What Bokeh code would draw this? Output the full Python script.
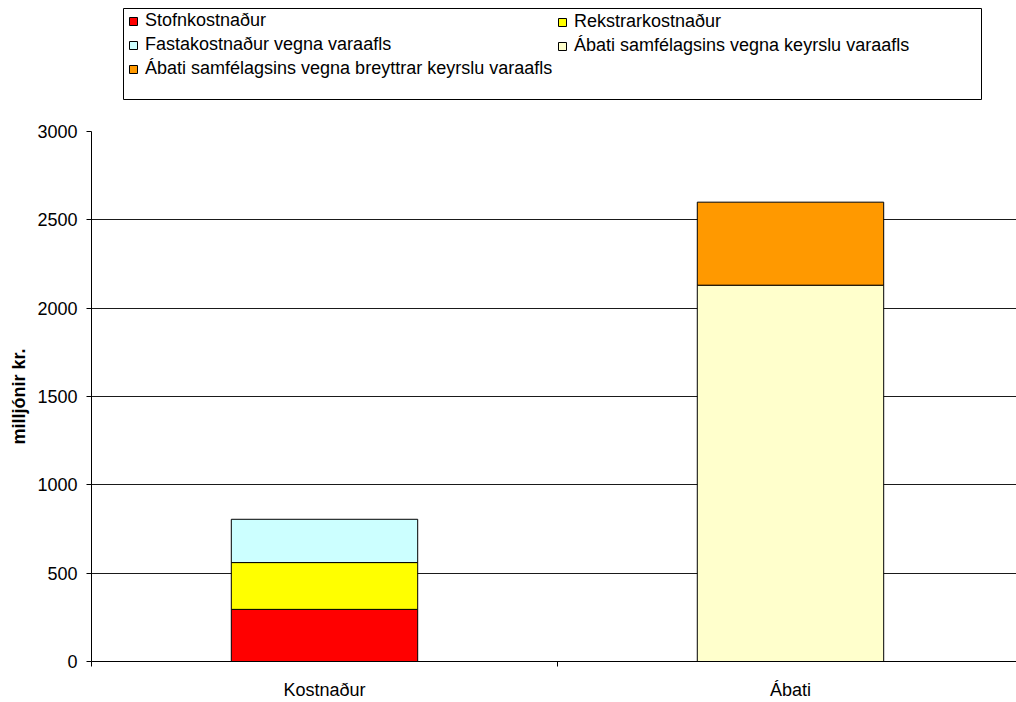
import numpy as np
from bokeh.plotting import figure
from bokeh.layouts import column
from bokeh.models import (Range1d, FixedTicker, Legend, LegendItem, BoxAnnotation)
from bokeh.embed import file_html
from bokeh.resources import INLINE

# Categories and stacked series (million ISK)
categories = ["Kostnaður", "Ábati"]
stofnkostnadur = [295, 0]
rekstrarkostnadur = [265, 0]
fastakostnadur = [245, 0]
abati_keyrsla = [0, 2130]
abati_breytt_keyrsla = [0, 470]

series_names = [
    "Stofnkostnaður",
    "Rekstrarkostnaður",
    "Fastakostnaður vegna varaafls",
    "Ábati samfélagsins vegna keyrslu varaafls",
    "Ábati samfélagsins vegna breyttrar keyrslu varaafls",
]
series_values = [stofnkostnadur, rekstrarkostnadur, fastakostnadur,
                 abati_keyrsla, abati_breytt_keyrsla]
series_colors = ["#FF0000", "#FFFF00", "#CCFFFF", "#FFFFCC", "#FF9900"]

y_ticks = [0, 500, 1000, 1500, 2000, 2500, 3000]

FONT = "Liberation Sans"
FS = "18px"
W = 1016
LEGEND_H = 110
LEFT = 91
# the plot area runs a little past the right edge of the page
X_END = len(categories) * 0.9925


def stacked_bars(fig, **extra):
    """Draw the stacked columns on fig and return one renderer per series."""
    x_pos = np.arange(len(categories)) + 0.5
    running = np.zeros(len(categories))
    out = []
    for vals, color in zip(series_values, series_colors):
        vals = np.asarray(vals, dtype=float)
        mask = vals > 0
        r = fig.vbar(x=x_pos[mask], bottom=running[mask], top=(running + vals)[mask],
                     width=0.40, fill_color=color, line_color="black", line_width=1,
                     **extra)
        out.append(r)
        running = running + vals
    return x_pos, out


# ---------------- main chart ----------------
p = figure(width=W, height=702 - LEGEND_H, output_backend="svg", toolbar_location=None,
           x_range=Range1d(0, X_END), y_range=Range1d(0, 3000),
           min_border_left=LEFT, min_border_right=0, min_border_top=131 - LEGEND_H,
           min_border_bottom=36)
p.outline_line_color = None
p.background_fill_color = "white"
p.border_fill_color = "white"

x_pos, _ = stacked_bars(p)

# x axis: labels at category centres, tick marks at category boundaries
xa = p.xaxis[0]
xa.ticker = FixedTicker(ticks=list(x_pos), minor_ticks=list(range(len(categories) + 1)))
xa.major_label_overrides = {float(x): c for x, c in zip(x_pos, categories)}
xa.major_tick_out = 0
xa.major_tick_in = 0
xa.minor_tick_out = 5
xa.minor_tick_in = 0
xa.minor_tick_line_color = "black"
xa.axis_line_color = "black"
xa.major_label_standoff = 13
xa.major_label_text_font = FONT
xa.major_label_text_font_size = FS
xa.major_label_text_color = "black"

ya = p.yaxis[0]
ya.ticker = FixedTicker(ticks=y_ticks)
ya.minor_tick_line_color = None
ya.major_tick_out = 5
ya.major_tick_in = 0
ya.major_tick_line_color = "black"
ya.axis_line_color = "black"
ya.major_label_standoff = 9
ya.major_label_text_font = FONT
ya.major_label_text_font_size = FS
ya.major_label_text_color = "black"
ya.axis_label = "milljónir kr."
ya.axis_label_text_font = FONT
ya.axis_label_text_font_size = FS
ya.axis_label_text_font_style = "bold"
ya.axis_label_text_color = "black"
ya.axis_label_standoff = 5

p.xgrid.grid_line_color = None
p.ygrid.ticker = FixedTicker(ticks=y_ticks)
p.ygrid.grid_line_color = "#1a1a1a"
p.ygrid.grid_line_width = 1

# ---------------- legend strip ----------------
lg = figure(width=W, height=LEGEND_H, output_backend="svg", toolbar_location=None,
            x_range=Range1d(0, X_END), y_range=Range1d(0, 3000),
            x_axis_location=None, y_axis_location=None,
            min_border=0, min_border_left=0, min_border_right=0,
            min_border_top=0, min_border_bottom=0)
lg.grid.visible = False
lg.outline_line_color = None
lg.background_fill_color = "white"
lg.border_fill_color = "white"

# hidden copies of the series, used only as legend swatches
_, swatches = stacked_bars(lg, visible=False)

legend_style = dict(
    border_line_alpha=0, background_fill_alpha=0, padding=0, margin=0,
    spacing=3, label_height=20, glyph_height=10, glyph_width=10,
    label_standoff=7, label_text_font=FONT, label_text_font_size=FS,
    label_text_color="black",
)
# the strip's frame is aligned with the chart frame, which starts at LEFT
col1 = [0, 2, 4]
col2 = [1, 3]
leg1 = Legend(items=[LegendItem(label=series_names[i], renderers=[swatches[i]]) for i in col1],
              location=(128 - LEFT, LEGEND_H - 79), **legend_style)
leg2 = Legend(items=[LegendItem(label=series_names[i], renderers=[swatches[i]]) for i in col2],
              location=(557 - LEFT, LEGEND_H - 56), **legend_style)
lg.add_layout(leg1, "center")
lg.add_layout(leg2, "center")

box = BoxAnnotation(left=123, right=981, top=8, bottom=99,
                    left_units="canvas", right_units="canvas",
                    top_units="canvas", bottom_units="canvas",
                    fill_alpha=0, line_color="black", line_alpha=1, line_width=1)
lg.add_layout(box)

layout = column(lg, p, spacing=0)
open("out.html", "w").write(file_html(layout, INLINE))
